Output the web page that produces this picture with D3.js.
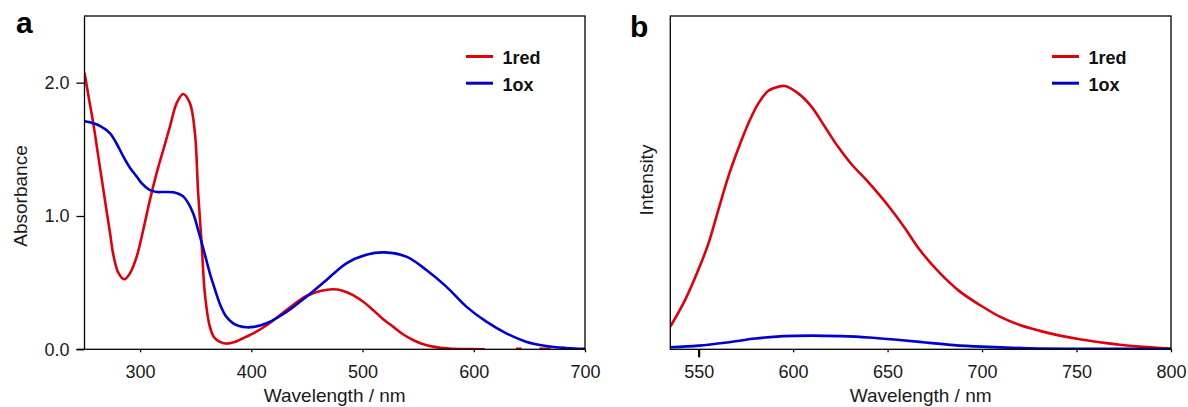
<!DOCTYPE html>
<html>
<head>
<meta charset="utf-8">
<script src="https://cdn.jsdelivr.net/npm/d3@7"></script>
<style>
  body { margin: 0; background: #fff; }
  svg { display: block; font-family: "Liberation Sans", Arial, sans-serif; }
</style>
</head>
<body>
<div id="chart"></div>
<script>
// ---- panel a: absorption spectra ----
const absRedNm = [250, 254, 258, 262, 266, 270, 273, 275.9, 280.4, 285.8, 290.9, 296.9, 302.8, 308.8, 314.8, 320.8, 326.8, 332.8, 338.7, 344.8, 349.3, 352.2, 355.3, 358.2, 362.7, 366.5, 371.7, 377, 385, 392.6, 403, 413.7, 431.6, 449.6, 462, 473.5, 482, 491.4, 500, 509.4, 518, 527.4, 536, 545.4, 554, 563.3, 578, 595, 610];
const absRed = [2.075, 1.88, 1.69, 1.47, 1.25, 1.03, 0.87, 0.71, 0.575, 0.525, 0.57, 0.695, 0.895, 1.12, 1.32, 1.495, 1.67, 1.845, 1.915, 1.845, 1.62, 1.17, 0.795, 0.42, 0.17, 0.09, 0.055, 0.043, 0.055, 0.083, 0.125, 0.18, 0.295, 0.4, 0.437, 0.45, 0.44, 0.407, 0.36, 0.295, 0.23, 0.17, 0.115, 0.07, 0.04, 0.02, 0.005, 0.001, 0];
const absRedTailNm = [638, 643, null, 659, 669];
const absRedTail = [0.003, 0.003, null, 0.003, 0.003];

const absOxNm = [250, 258, 265, 273, 279, 285, 291, 297, 302, 306, 310, 315, 322, 330, 335, 339, 343, 347.7, 352, 356.7, 362.7, 365.7, 371.7, 377, 383.7, 389, 395.7, 402, 413.7, 431.6, 449.6, 467.6, 485.5, 503.5, 520, 539.4, 557.4, 575.3, 593.3, 611.3, 629.2, 647, 665, 683, 700];
const absOx = [1.71, 1.695, 1.67, 1.62, 1.54, 1.445, 1.36, 1.295, 1.24, 1.21, 1.19, 1.18, 1.18, 1.178, 1.165, 1.145, 1.1, 1.02, 0.9, 0.76, 0.57, 0.49, 0.34, 0.25, 0.195, 0.175, 0.165, 0.168, 0.195, 0.28, 0.395, 0.52, 0.645, 0.71, 0.727, 0.695, 0.595, 0.47, 0.32, 0.207, 0.12, 0.057, 0.025, 0.01, 0.003];

const absXTicks = [300, 400, 500, 600, 700];
const absYTicks = [0, 1, 2];

// ---- panel b: emission spectra (normalised intensity) ----
const emRedNm = [535, 542.8, 549.8, 555.1, 560.4, 565.7, 571, 576.3, 581.6, 586.9, 592.1, 595.7, 602.7, 609.8, 616.8, 623.9, 631, 638, 645, 652.1, 659.2, 667.1, 677.7, 688.3, 698.9, 709.4, 720, 730.6, 741.2, 751.7, 762.3, 772.9, 783.4, 797.6, 800];
const emRed = [0.086, 0.187, 0.301, 0.4, 0.529, 0.656, 0.763, 0.858, 0.934, 0.982, 0.997, 1.0, 0.972, 0.921, 0.845, 0.768, 0.702, 0.649, 0.592, 0.529, 0.46, 0.377, 0.289, 0.219, 0.168, 0.124, 0.092, 0.07, 0.052, 0.038, 0.027, 0.017, 0.01, 0.004, 0.003];

const emOxNm = [535, 550, 565, 580, 595, 610, 625, 640, 655, 670, 685, 700, 725, 760, 800];
const emOx = [0.008, 0.014, 0.026, 0.041, 0.05, 0.052, 0.05, 0.045, 0.036, 0.026, 0.016, 0.01, 0.004, 0.002, 0.001];

const emXTicks = [550, 600, 650, 700, 750, 800];

const seriesNames = ["1red", "1ox"];
const seriesColors = ["#e0000a", "#0000d2"];

const W = 1188, H = 407;
const svg = d3.select("#chart").append("svg")
  .attr("width", W).attr("height", H);

const zip = (xs, ys) => xs.map((x, i) => ({x: x, y: ys[i]}));

function panel(cfg) {
  const x = d3.scaleLinear().domain(cfg.xDomain).range([cfg.left, cfg.right]);
  const y = d3.scaleLinear().domain(cfg.yDomain).range([cfg.bottom, cfg.top]);
  const id = "clip-" + cfg.label;

  svg.append("clipPath").attr("id", id)
    .append("rect")
    .attr("x", cfg.left).attr("y", cfg.top)
    .attr("width", cfg.right - cfg.left).attr("height", cfg.bottom - cfg.top);

  const line = d3.line()
    .defined(d => d.x != null && d.y != null)
    .x(d => x(d.x)).y(d => y(d.y))
    .curve(d3.curveCatmullRom.alpha(0.5));

  const g = svg.append("g").attr("clip-path", `url(#${id})`);
  cfg.series.forEach(s => {
    g.append("path")
      .datum(s.data)
      .attr("fill", "none")
      .attr("stroke", s.color)
      .attr("stroke-width", 2.6)
      .attr("stroke-linejoin", "round")
      .attr("d", line);
  });

  // frame
  svg.append("rect")
    .attr("x", cfg.left).attr("y", cfg.top)
    .attr("width", cfg.right - cfg.left).attr("height", cfg.bottom - cfg.top)
    .attr("fill", "none").attr("stroke", "#000").attr("stroke-width", 1.3);

  // x axis
  const xAxis = svg.append("g")
    .attr("transform", `translate(0,${cfg.bottom})`)
    .call(d3.axisBottom(x).tickValues(cfg.xTicks).tickSize(3).tickSizeOuter(0).tickPadding(13));
  xAxis.select(".domain").remove();
  xAxis.selectAll("line").attr("stroke", "#000").attr("stroke-width", 1.3);
  xAxis.selectAll("text").attr("font-size", 18).attr("fill", "#1a1a1a")
    .attr("font-family", "Liberation Sans, Arial, sans-serif");

  if (cfg.yTicks) {
    const yAxis = svg.append("g")
      .attr("transform", `translate(${cfg.left},0)`)
      .call(d3.axisLeft(y).tickValues(cfg.yTicks).tickSize(8).tickSizeOuter(0)
        .tickPadding(7).tickFormat(d3.format(".1f")));
    yAxis.select(".domain").remove();
    yAxis.selectAll("line").attr("stroke", "#000").attr("stroke-width", 1.3);
    yAxis.selectAll("text").attr("font-size", 18).attr("fill", "#1a1a1a")
      .attr("font-family", "Liberation Sans, Arial, sans-serif");
  }

  // axis titles
  svg.append("text")
    .attr("x", (cfg.left + cfg.right) / 2).attr("y", 401.5)
    .attr("text-anchor", "middle").attr("font-size", 19).attr("fill", "#1a1a1a")
    .text("Wavelength / nm");
  svg.append("text")
    .attr("transform", `translate(${cfg.yTitleX},${cfg.yTitleY}) rotate(-90)`)
    .attr("text-anchor", "middle").attr("font-size", 19).attr("fill", "#1a1a1a")
    .text(cfg.yTitle);

  // panel letter
  svg.append("text")
    .attr("x", cfg.letterX).attr("y", cfg.letterY)
    .attr("font-size", 30).attr("font-weight", "bold")
    .text(cfg.label);

  // legend
  cfg.series.forEach((s, i) => {
    const ly = 56.5 + i * 26.7;
    svg.append("line")
      .attr("x1", cfg.legendX).attr("x2", cfg.legendX + 27)
      .attr("y1", ly).attr("y2", ly)
      .attr("stroke", s.color).attr("stroke-width", 3);
    svg.append("text")
      .attr("x", cfg.legendX + 36.5).attr("y", ly + 7.6)
      .attr("font-size", 18).attr("font-weight", "bold").attr("fill", "#111")
      .text(s.name);
  });

  return {x, y, xAxis};
}

// panel a
const pa = panel({
  label: "a",
  left: 84.5, right: 585, top: 16, bottom: 349.3,
  xDomain: [250, 700], yDomain: [0, 2.5],
  xTicks: absXTicks, yTicks: absYTicks,
  yTitle: "Absorbance", yTitleX: 27, yTitleY: 196,
  letterX: 16, letterY: 32.5,
  legendX: 466,
  series: [
    {name: seriesNames[0], color: seriesColors[0], data: zip(absRedNm, absRed).concat([{x: null, y: null}], zip(absRedTailNm, absRedTail))},
    {name: seriesNames[1], color: seriesColors[1], data: zip(absOxNm, absOx)}
  ]
});
// x axis line of panel a extends under the 0.0 tick
svg.append("line")
  .attr("x1", pa.x(250) - 8).attr("x2", pa.x(250))
  .attr("y1", pa.y(0)).attr("y2", pa.y(0))
  .attr("stroke", "#000").attr("stroke-width", 1.3);

// panel b
const pb = panel({
  label: "b",
  left: 670.3, right: 1171, top: 16, bottom: 349.3,
  xDomain: [535, 800], yDomain: [0, 1.266],
  xTicks: emXTicks, yTicks: null,
  yTitle: "Intensity", yTitleX: 653, yTitleY: 180,
  letterX: 630, letterY: 37,
  legendX: 1052,
  series: [
    {name: seriesNames[0], color: seriesColors[0], data: zip(emRedNm, emRed)},
    {name: seriesNames[1], color: seriesColors[1], data: zip(emOxNm, emOx)}
  ]
});
// the 550 tick in panel b is drawn heavier in the original
pb.xAxis.selectAll(".tick").filter(d => d === 550).select("line")
  .attr("y2", 8).attr("stroke-width", 2.2);
</script>
</body>
</html>
